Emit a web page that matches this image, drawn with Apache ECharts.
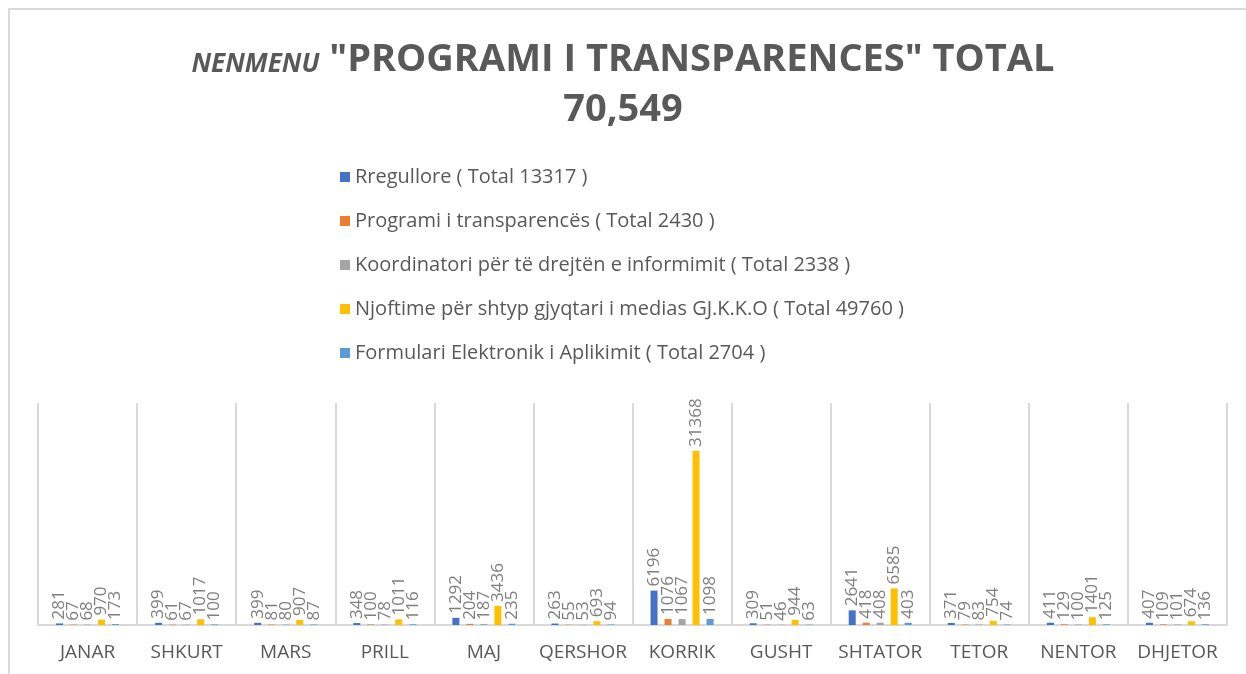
<!DOCTYPE html>
<html>
<head>
<meta charset="utf-8">
<script src="https://cdn.jsdelivr.net/npm/echarts@6/dist/echarts.min.js"></script>
<style>
	html, body { margin: 0; padding: 0; background: #fff; }
	#chart { width: 1246px; height: 674px; }
</style>
</head>
<body>
<div id="chart"></div>
<script>
// muajt
var months = ['JANAR', 'SHKURT', 'MARS', 'PRILL', 'MAJ', 'QERSHOR', 'KORRIK', 'GUSHT', 'SHTATOR', 'TETOR', 'NENTOR', 'DHJETOR'];
// emrat e serive
var seriesNames = [
	'Rregullore ( Total 13317 )',
	'Programi i transparencës ( Total 2430 )',
	'Koordinatori për të drejtën e informimit ( Total 2338 )',
	'Njoftime për shtyp gjyqtari i medias GJ.K.K.O ( Total 49760 )',
	'Formulari Elektronik i Aplikimit ( Total 2704 )'
];
var rregullore = [281, 399, 399, 348, 1292, 263, 6196, 309, 2641, 371, 411, 407];
var programi = [67, 61, 81, 100, 204, 55, 1076, 51, 418, 79, 129, 109];
var koordinatori = [68, 67, 80, 78, 187, 53, 1067, 46, 408, 83, 100, 101];
var njoftime = [970, 1017, 907, 1011, 3436, 693, 31368, 944, 6585, 754, 1401, 674];
var formulari = [173, 100, 87, 116, 235, 94, 1098, 63, 403, 74, 125, 136];

var colors = ['#4472c4', '#ed7d31', '#a5a5a5', '#ffc000', '#5b9bd5'];
var allData = [rregullore, programi, koordinatori, njoftime, formulari];

var myChart = echarts.init(document.getElementById('chart'));

// nje seri per cdo kategori
var series = seriesNames.map(function (name, i) {
	return {
		name: name,
		type: 'bar',
		data: allData[i],
		barWidth: 7,
		barGap: '100%',
		itemStyle: { color: colors[i] },
		label: {
			show: true,
			position: 'top',
			rotate: 90,
			align: 'left',
			verticalAlign: 'middle',
			distance: 4,
			color: '#7f7f7f',
			fontSize: 17,
			fontFamily: 'Open Sans'
		}
	};
});

var option = {
	backgroundColor: '#fff',
	color: colors,
	animation: false,
	title: {
		text: '{i|NENMENU} "PROGRAMI I TRANSPARENCES" TOTAL\n70,549',
		left: 'center',
		top: 30,
		textStyle: {
			color: '#595959',
			fontSize: 38,
			fontWeight: 'bold',
			fontFamily: 'Open Sans',
			lineHeight: 50,
			rich: {
				i: {
					fontSize: 26,
					fontStyle: 'italic',
					fontWeight: 'bold',
					color: '#595959',
					fontFamily: 'Open Sans',
					padding: [9, 0, 0, 0]
				}
			}
		}
	},
	legend: {
		orient: 'vertical',
		left: 335,
		top: 162,
		itemGap: 24,
		itemWidth: 10,
		itemHeight: 10,
		icon: 'rect',
		textStyle: {
			color: '#595959',
			fontSize: 20,
			fontFamily: 'Open Sans'
		},
		data: seriesNames
	},
	grid: {
		left: 38,
		right: 19,
		top: 403,
		bottom: 49
	},
	xAxis: {
		type: 'category',
		data: months,
		axisTick: { show: false },
		axisLine: { lineStyle: { color: '#d9d9d9', width: 2 } },
		splitLine: { show: true, lineStyle: { color: '#d9d9d9', width: 2 } },
		axisLabel: {
			color: '#595959',
			fontSize: 19,
			fontFamily: 'Open Sans',
			margin: 18,
			interval: 0
		}
	},
	yAxis: {
		type: 'value',
		min: 0,
		max: 40000,
		show: false,
		splitLine: { show: false }
	},
	graphic: [{
		type: 'rect',
		shape: { x: 9, y: 9, width: 1260, height: 700 },
		style: { fill: 'none', stroke: '#d9d9d9', lineWidth: 2 },
		silent: true
	}],
	series: series
};

myChart.setOption(option);
window.addEventListener('resize', function () {
	myChart.resize();
});
</script>
</body>
</html>
